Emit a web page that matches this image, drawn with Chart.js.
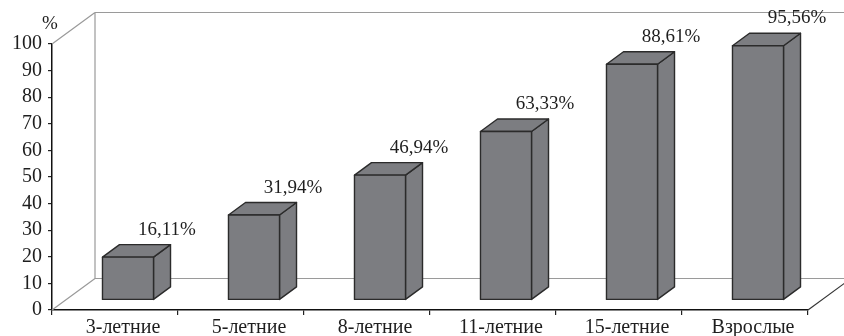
<!DOCTYPE html>
<html>
<head>
<meta charset="utf-8">
<script src="https://cdn.jsdelivr.net/npm/chart.js@4/dist/chart.umd.min.js"></script>
<style>
html,body{margin:0;padding:0;background:#fff;}
canvas{display:block;}
</style>
</head>
<body>
<canvas id="c" width="844" height="336"></canvas>
<script>
const categories = ['3-летние', '5-летние', '8-летние', '11-летние', '15-летние', 'Взрослые'];
const values = [16.11, 31.94, 46.94, 63.33, 88.61, 95.56];
const yTicks = [0, 10, 20, 30, 40, 50, 60, 70, 80, 90, 100];
const unitLabel = '%';

const SERIF = '"Liberation Serif", "DejaVu Serif", serif';
const BAR_FILL = '#7c7d81';
const EDGE = '#2b2b2b';
const WALL = '#9a9a9a';

const box3d = {
  id: 'box3d',
  beforeDatasetsDraw(chart) {
    const {ctx, chartArea: a} = chart;
    const D = {x: 43, y: -31.5};
    ctx.save();
    ctx.strokeStyle = WALL;
    ctx.lineWidth = 1.2;
    ctx.beginPath();
    ctx.moveTo(a.left, a.bottom); ctx.lineTo(a.left + D.x, a.bottom + D.y);
    ctx.moveTo(a.left, a.top); ctx.lineTo(a.left + D.x, a.top + D.y);
    ctx.moveTo(a.left + D.x, a.top + D.y); ctx.lineTo(a.left + D.x, a.bottom + D.y);
    ctx.moveTo(a.left + D.x, a.top + D.y); ctx.lineTo(chart.width + 5, a.top + D.y);
    ctx.moveTo(a.left + D.x, a.bottom + D.y); ctx.lineTo(chart.width + 5, a.bottom + D.y);
    ctx.stroke();
    ctx.strokeStyle = '#333';
    ctx.beginPath();
    ctx.moveTo(a.right, a.bottom); ctx.lineTo(a.right + D.x, a.bottom + D.y);
    ctx.stroke();
    ctx.restore();
  },
  afterDatasetsDraw(chart) {
    const {ctx} = chart;
    const meta = chart.getDatasetMeta(0);
    const f = {x: 13, y: -10};
    const d = {x: 17, y: -12.5};
    ctx.save();
    ctx.lineJoin = 'round';
    meta.data.forEach((bar, i) => {
      const p = bar.getProps(['x', 'y', 'base', 'width'], true);
      const x0 = p.x - p.width / 2 + f.x, x1 = p.x + p.width / 2 + f.x;
      const yt = p.y + f.y, yb = p.base + f.y;
      ctx.fillStyle = BAR_FILL;
      ctx.strokeStyle = EDGE;
      ctx.lineWidth = 1.4;
      ctx.beginPath();
      ctx.moveTo(x1, yt); ctx.lineTo(x1 + d.x, yt + d.y); ctx.lineTo(x1 + d.x, yb + d.y); ctx.lineTo(x1, yb); ctx.closePath();
      ctx.fill(); ctx.stroke();
      ctx.beginPath();
      ctx.moveTo(x0, yt); ctx.lineTo(x0 + d.x, yt + d.y); ctx.lineTo(x1 + d.x, yt + d.y); ctx.lineTo(x1, yt); ctx.closePath();
      ctx.fill(); ctx.stroke();
      ctx.beginPath();
      ctx.rect(x0, yt, x1 - x0, yb - yt);
      ctx.fill(); ctx.stroke();
      ctx.fillStyle = '#1e1e1e';
      ctx.font = '19px ' + SERIF;
      ctx.textAlign = 'center';
      ctx.textBaseline = 'middle';
      const txt = values[i].toFixed(2).replace('.', ',') + '%';
      ctx.fillText(txt, (x0 + x1) / 2 + 39, yt + d.y - 15);
    });
    const a = chart.chartArea;
    ctx.fillStyle = '#1e1e1e';
    ctx.font = '19px ' + SERIF;
    ctx.textAlign = 'center';
    ctx.textBaseline = 'middle';
    ctx.fillText(unitLabel, a.left - 2, a.top - 20);
    ctx.restore();
  }
};

new Chart(document.getElementById('c'), {
  type: 'bar',
  data: {
    labels: categories,
    datasets: [{
      data: values,
      backgroundColor: 'rgba(0,0,0,0)',
      borderWidth: 0,
      categoryPercentage: 1,
      barPercentage: 0.405
    }]
  },
  options: {
    responsive: false,
    animation: false,
    layout: {padding: {top: 44, right: 36, left: 0, bottom: 0}},
    plugins: {legend: {display: false}, tooltip: {enabled: false}},
    scales: {
      x: {
        afterFit(s) { s.height = 26; },
        grid: {offset: true, drawOnChartArea: false, tickLength: 5, color: '#222', lineWidth: 1.2},
        border: {display: true, color: '#111', width: 1.5},
        ticks: {
          color: '#1e1e1e', font: {family: SERIF, size: 20}, padding: 1,
          labelOffset: 8, maxRotation: 0, autoSkip: false
        }
      },
      y: {
        min: 0, max: 100,
        afterFit(s) { s.width = 52; },
        afterBuildTicks(s) { s.ticks = yTicks.map(v => ({value: v})); },
        grid: {drawOnChartArea: false, tickLength: 4, color: '#222', lineWidth: 1.2},
        border: {display: true, color: '#111', width: 1.5},
        ticks: {color: '#1e1e1e', font: {family: SERIF, size: 20}, padding: 6, autoSkip: false}
      }
    }
  },
  plugins: [box3d]
});
</script>
</body>
</html>
